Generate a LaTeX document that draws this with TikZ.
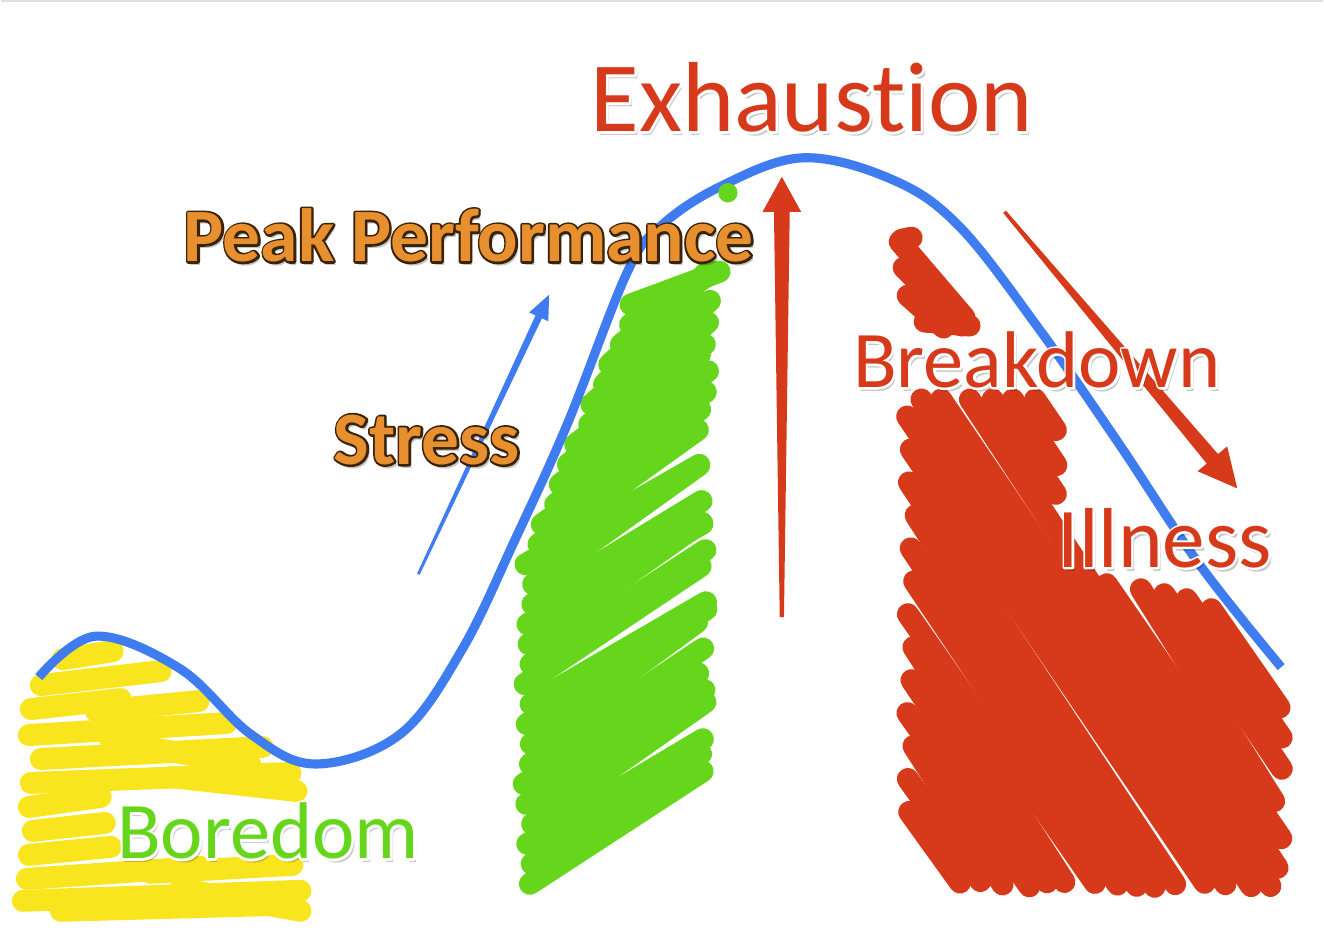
\documentclass[tikz,border=0pt]{standalone}
\usepackage{fontspec}
\setmainfont{Carlito}[Ligatures=NoCommon]
\usetikzlibrary{calc}

\definecolor{penblue}{HTML}{3E7CF0}
\definecolor{penred}{HTML}{D63A1A}
\definecolor{pengreen}{HTML}{66D61C}
\definecolor{penyellow}{HTML}{F8E51E}
\definecolor{labelorange}{HTML}{E8902F}
\definecolor{labelbrown}{HTML}{3A2306}

\tikzset{every node/.style={inner sep=0pt,anchor=base west},line cap=round,line join=round,
  scribble/.style={line width=12.5pt,line cap=round,draw=#1},
  exfont/.style={font=\fontsize{56.7}{60}\selectfont},
  peakfont/.style={font=\bfseries\fontsize{43}{46}\selectfont},
  midfont/.style={font=\fontsize{45.8}{48}\selectfont},
  illfont/.style={font=\fontsize{48.5}{50}\selectfont}}

% text with a stroked rim and a soft drop shadow
\newcommand\rimlabel[6]{%
  \node[#3,text=black,opacity=.22] at ([shift={(1.6pt,-2.2pt)}]#2) {#6};
  \node[#3,text=#5] at (#2) {\special{pdf:literal 1 Tr 2.4 w 1 j}#6\special{pdf:literal 0 Tr}};
  \node[#3,text=#4] (#1) at (#2) {#6};
}

% pen arrow: thin at the tail, wider towards the head
\newcommand\taperarrow[7]{%
  \coordinate (neck) at ($(#2)!#5!(#1)$);
  \fill[#7] ($(#1)!#3!90:(#2)$) -- ($(neck)!#4!-90:(#1)$) -- ($(neck)!#6!-90:(#1)$) -- (#2)
    -- ($(neck)!#6!90:(#1)$) -- ($(neck)!#4!90:(#1)$) -- ($(#1)!#3!-90:(#2)$) -- cycle;
}

\begin{document}
\begin{tikzpicture}[x=0.02cm,y=-0.02cm]
  \fill[white] (0,0) rectangle (1324,948);
  \draw[black!12,line width=1pt] (0,1) -- (1324,1);

  % boredom: yellow scribble under the first hump
  \foreach \xa/\ya/\xb/\yb in {62/660/112/652,40/686/160/672,30/710/120/700,95/712/198/702,
      28/736/226/724,40/760/262/748,110/742/250/766,30/784/290/774,170/778/296/792,
      28/808/100/798,32/832/104/824,28/856/110/848,26/880/200/868,150/874/292/866,
      22/902/300/892,60/912/280/906,180/890/300/912}
    \draw[scribble=penyellow] (\xa,\ya) -- (\xb,\yb);

  % peak performance: green scribble up the slope
  \pgfmathsetseed{3}
  \foreach \y in {305,325,...,885} {
    \pgfmathsetmacro\xl{528+max(0,560-\y)*0.42+5*rand}
    \pgfmathsetmacro\xr{702+max(0,500-\y)*0.08+5*rand}
    \pgfmathsetmacro\yr{max(272,\y-110+12*rand)}
    \draw[scribble=pengreen] (\xl,\y) -- (\xr,\yr);
  }

  % breakdown / illness: red scribble down the far side
  \foreach \xa/\ya/\xb/\yb in {902/240/912/238,900/242/965/318,904/268/962/326,
      908/296/944/328,925/322/970/326}
    \draw[scribble=penred] (\xa,\ya) -- (\xb,\yb);
  \foreach \c/\ya/\yb in {370/813/888,392/780/888,414/747/888,436/714/888,458/681/888,
      480/648/888,502/615/888,524/582/888,546/549/888,568/516/888,590/483/888,
      612/450/888,634/417/888,656/400/888,678/400/888,700/400/873,
      722/400/495,744/400/466,766/400/433,
      722/585/840,744/590/807,766/595/774,788/600/741,806/610/714} {
    \pgfmathsetmacro\ca{\c+5*rand}
    \pgfmathsetmacro\cb{\c+5*rand}
    \pgfmathsetmacro\yb{\yb-6*abs(rand)}
    \draw[scribble=penred] (\ca+\ya/1.5,\ya) -- (\cb+\yb/1.5,\yb);
  }

  % performance curve
  \draw[penblue,line width=5.2pt] plot[smooth,tension=.6] coordinates {
    (38,678) (95,637) (180,670) (250,735) (315,765) (400,735) (462,650)
    (515,540) (567,425) (627,273) (660,227) (720,187) (803,158) (893,180)
    (960,227) (1040,330) (1120,445) (1200,565) (1282,668)};
  \fill[pengreen] (728,193) circle[radius=5.5pt];

  \coordinate (stressTail) at (418,575);
  \coordinate (stressTip) at (549,295);
  \coordinate (peakTail) at (782,618);
  \coordinate (peakTip) at (782,177);
  \coordinate (fallTail) at (1005,212);
  \coordinate (fallTip) at (1238,489);
  \taperarrow{stressTail}{stressTip}{0.8pt}{2pt}{14pt}{6pt}{penblue}
  \taperarrow{peakTail}{peakTip}{1.2pt}{4.5pt}{20pt}{11pt}{penred}
  \taperarrow{fallTail}{fallTip}{1pt}{4.2pt}{22pt}{11pt}{penred}

  \rimlabel{exhaustion}{590,132}{exfont}{penred}{white}{Exhaustion}
  \rimlabel{peak}{183,262}{peakfont}{labelorange}{labelbrown}{Peak Performance}
  \rimlabel{stress}{333,465}{peakfont}{labelorange}{labelbrown}{Stress}
  \rimlabel{breakdown}{853,388}{midfont}{penred}{white}{Breakdown}
  \rimlabel{illness}{1058,568}{illfont}{penred}{white}{Illness}
  \rimlabel{boredom}{116,860}{midfont}{pengreen}{white}{Boredom}
\end{tikzpicture}
\end{document}
